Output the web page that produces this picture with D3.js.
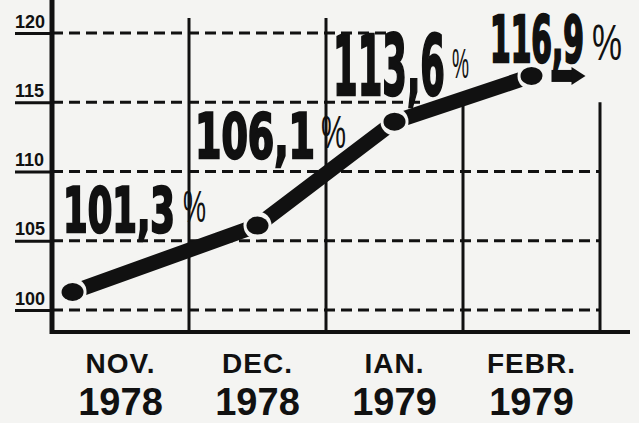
<!DOCTYPE html>
<html>
<head>
<meta charset="utf-8">
<script src="https://cdn.jsdelivr.net/npm/d3@7"></script>
<style>
body { margin: 0; background: #f4f4f2; }
svg { display: block; }
</style>
</head>
<body>
<div id="chart"></div>
<script>
// chart data
var months = ["NOV.", "DEC.", "IAN.", "FEBR."];
var years = ["1978", "1978", "1979", "1979"];
var values = [101.3, 106.1, 113.6, 116.9];
var yTicks = [100, 105, 110, 115, 120];

var ink = "#111", paper = "#f4f4f2";

// where the big value labels sit (x, baseline, width, size) and their % signs
var labelLayout = [
  { x: 63, y: 232, w: 112, s: 63, px: 183, py: 222, pw: 23, ps: 44 },
  { x: 195, y: 158, w: 120, s: 63, px: 321, py: 148, pw: 25, ps: 46 },
  { x: 333, y: 95, w: 112, s: 83, px: 452, py: 78, pw: 17, ps: 42 },
  { x: 490, y: 62, w: 94, s: 64, px: 592, py: 60, pw: 30, ps: 50 }
];

var svg = d3.select("#chart").append("svg")
  .attr("width", 639)
  .attr("height", 423);

svg.append("rect").attr("width", 639).attr("height", 423).attr("fill", paper);

// scales
var x = d3.scaleBand().domain(months).range([52, 600]);
var y = d3.scaleLinear().domain([100, 120]).range([310, 33]);
var bw = x.bandwidth();

// dashed horizontal grid
svg.append("g").selectAll("line")
  .data(yTicks)
  .enter().append("line")
  .attr("x1", 52)
  .attr("x2", function (d) { return d == 120 ? x("IAN.") + bw * 0.45 : d == 115 ? x("IAN.") + bw * 0.7 : 600; })
  .attr("y1", function (d) { return y(d); })
  .attr("y2", function (d) { return y(d); })
  .attr("stroke", ink)
  .attr("stroke-width", 3)
  .attr("stroke-dasharray", "11,6");

// vertical month dividers
svg.append("g").selectAll("line")
  .data(months)
  .enter().append("line")
  .attr("x1", function (d) { return x(d) + bw; })
  .attr("x2", function (d) { return x(d) + bw; })
  .attr("y1", function (d, i) { return i < 2 ? y(120) - 15 : y(115); })
  .attr("y2", 332)
  .attr("stroke", ink)
  .attr("stroke-width", 3);

// y axis, labels sit on top of a short solid tick
var yAxis = svg.append("g")
  .attr("transform", "translate(52,0)")
  .call(d3.axisLeft(y).tickValues(yTicks).tickSize(37));
yAxis.select(".domain").remove();
yAxis.selectAll(".tick line").attr("stroke", ink).attr("stroke-width", 3);
yAxis.selectAll(".tick text")
  .attr("x", -37)
  .attr("dy", -6)
  .style("text-anchor", "start")
  .style("font-family", "'Liberation Sans', Arial, sans-serif")
  .style("font-weight", "bold")
  .style("font-size", "18px")
  .attr("fill", ink);

// frame lines
svg.append("line")
  .attr("x1", 52).attr("x2", 52).attr("y1", 0).attr("y2", 334)
  .attr("stroke", ink).attr("stroke-width", 5);
svg.append("line")
  .attr("x1", 50).attr("x2", 630).attr("y1", 332).attr("y2", 332)
  .attr("stroke", ink).attr("stroke-width", 4);

// x axis: month + year
var xAxis = svg.append("g")
  .attr("transform", "translate(0,373)")
  .call(d3.axisBottom(x).tickSize(0).tickPadding(0));
xAxis.select(".domain").remove();
xAxis.selectAll(".tick text")
  .attr("dy", 0)
  .attr("y", 0)
  .style("font-family", "'Liberation Sans', Arial, sans-serif")
  .style("font-weight", "bold")
  .style("font-size", "28px")
  .style("letter-spacing", "1px")
  .attr("fill", ink);
xAxis.selectAll(".tick")
  .append("text")
  .attr("y", 42)
  .attr("text-anchor", "middle")
  .style("font-family", "'Liberation Sans', Arial, sans-serif")
  .style("font-weight", "bold")
  .style("font-size", "38px")
  .attr("fill", ink)
  .text(function (d, i) { return years[i]; });

// data line
var pts = values.map(function (v, i) {
  var px = i === 0 ? x(months[i]) + bw * 0.15 : x(months[i]) + bw / 2;
  return [px, y(v)];
});

svg.append("path")
  .datum(pts)
  .attr("d", d3.line())
  .attr("fill", "none")
  .attr("stroke", ink)
  .attr("stroke-width", 15);

// arrow after last point
var last = pts[pts.length - 1];
var arrow = svg.append("g").attr("transform", "translate(" + last[0] + "," + last[1] + ")");
arrow.append("line")
  .attr("x1", 20).attr("x2", 44).attr("y1", 0).attr("y2", 0)
  .attr("stroke", ink).attr("stroke-width", 12);
arrow.append("path")
  .attr("d", "M40,-9L54,0L40,9Z")
  .attr("fill", ink);

// dots with a paper gap round them
svg.append("g").selectAll("circle")
  .data(pts)
  .enter().append("circle")
  .attr("cx", function (d) { return d[0]; })
  .attr("cy", function (d) { return d[1]; })
  .attr("r", 14)
  .attr("fill", paper);
svg.append("g").selectAll("ellipse")
  .data(pts)
  .enter().append("ellipse")
  .attr("cx", function (d) { return d[0]; })
  .attr("cy", function (d) { return d[1]; })
  .attr("rx", 11)
  .attr("ry", 9)
  .attr("fill", ink);

// squeeze a text horizontally so it fills w pixels
function squeeze(sel, key, w) {
  sel.each(function (d, i) {
    var t = d3.select(this).select("text");
    var len = t.node().getComputedTextLength();
    var L = labelLayout[i];
    d3.select(this).attr("transform",
      "translate(" + L[key[0]] + "," + L[key[1]] + ") scale(" + (L[w] / len) + ",1)");
  });
}

// value labels: heavy condensed number
var nums = svg.append("g").selectAll("g")
  .data(values)
  .enter().append("g");
nums.append("text")
  .style("font-family", "'Liberation Sans Narrow', 'DejaVu Sans Condensed', sans-serif")
  .style("font-weight", "bold")
  .style("font-size", function (d, i) { return labelLayout[i].s + "px"; })
  .attr("fill", ink)
  .attr("stroke", ink)
  .attr("stroke-width", 2.5)
  .text(function (d) { return d.toFixed(1).replace(".", ","); });
squeeze(nums, ["x", "y"], "w");

// and the thin % sign after it
var pcts = svg.append("g").selectAll("g")
  .data(values)
  .enter().append("g");
pcts.append("text")
  .style("font-family", "'Liberation Sans', Arial, sans-serif")
  .style("font-size", function (d, i) { return labelLayout[i].ps + "px"; })
  .attr("fill", ink)
  .text("%");
squeeze(pcts, ["px", "py"], "pw");
</script>
</body>
</html>
